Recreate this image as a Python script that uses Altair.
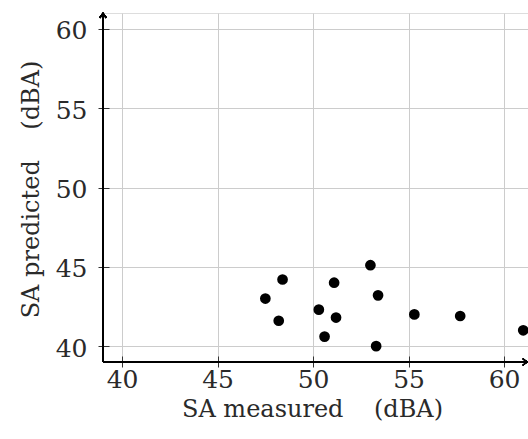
import altair as alt
import pandas as pd

# data
sa_measured = [47.5, 48.4, 48.2, 50.3, 50.6, 51.1, 51.2, 53.0, 53.4, 53.3, 55.3, 57.7, 61.0]
sa_predicted = [43.0, 44.2, 41.6, 42.3, 40.6, 44.0, 41.8, 45.1, 43.2, 40.0, 42.0, 41.9, 41.0]
tick_values = [40, 45, 50, 55, 60]
x_domain = [39, 61.25]
y_domain = [39, 61]

df = pd.DataFrame({"x": sa_measured, "y": sa_predicted})

FONT = "DejaVu Serif"
TXT = "#2a2a2a"
sp = "\u00a0"

xscale = alt.Scale(domain=x_domain, nice=False, zero=False)
yscale = alt.Scale(domain=y_domain, nice=False, zero=False)

xaxis = alt.Axis(
    values=tick_values, domain=False, offset=-6, tickSize=11, tickColor="#333333",
    tickWidth=1, grid=True, gridColor="#cccccc", gridWidth=1,
    labelFont=FONT, labelFontSize=25, labelColor=TXT, labelBaseline="alphabetic",
    labelPadding=20, title="SA measured" + sp * 4 + "(dBA)", titleFont=FONT,
    titleFontSize=24, titleFontWeight="normal", titleColor=TXT,
    titleBaseline="alphabetic", titleY=60, titleX=209, labelFlush=False,
)
yaxis = alt.Axis(
    values=tick_values, domain=False, offset=-6, tickSize=11, tickColor="#333333",
    tickWidth=1, grid=True, gridColor="#cccccc", gridWidth=1,
    labelFont=FONT, labelFontSize=25, labelColor=TXT, labelBaseline="middle",
    labelPadding=11, labelOffset=2, title="SA predicted" + sp * 4 + "(dBA)",
    titleFont=FONT, titleFontSize=24, titleFontWeight="normal", titleColor=TXT,
    titleBaseline="alphabetic", titleX=-71, titleY=176, titleAngle=-90, labelFlush=False,
)

base = alt.Chart(df)

points = base.mark_circle(size=115, color="black", opacity=1, clip=False).encode(
    x=alt.X("x:Q", scale=xscale, axis=xaxis),
    y=alt.Y("y:Q", scale=yscale, axis=yaxis),
)

xline = base.mark_rule(color="black", strokeWidth=1.2, clip=False).encode(
    x=alt.datum(x_domain[0]), x2=alt.datum(x_domain[1]), y=alt.datum(y_domain[0])
)
yline = base.mark_rule(color="black", strokeWidth=1.2, clip=False).encode(
    y=alt.datum(y_domain[0]), y2=alt.datum(y_domain[1]), x=alt.datum(x_domain[0])
)
xarrow = base.mark_point(
    shape="M-1,-0.7 Q-0.4,-0.1 0,0 Q-0.4,0.1 -1,0.7", filled=False, stroke="black",
    strokeWidth=1.2, size=90, opacity=1, clip=False,
).encode(x=alt.datum(x_domain[1] - 0.02), y=alt.datum(y_domain[0]))
yarrow = base.mark_point(
    shape="M-0.7,1 Q-0.1,0.4 0,0 Q0.1,0.4 0.7,1", filled=False, stroke="black",
    strokeWidth=1.2, size=90, opacity=1, clip=False,
).encode(x=alt.datum(x_domain[0]), y=alt.datum(y_domain[1]))

chart = alt.layer(points, xline, yline, xarrow, yarrow).properties(
    width=425, height=349,
    autosize=alt.AutoSizeParams(type="none"),
    padding={"left": 103, "top": 13, "right": 0, "bottom": 77},
).configure_view(stroke=None).configure(background="white", font=FONT)

chart.save("out.html", embed_options={"renderer": "svg", "actions": False})
